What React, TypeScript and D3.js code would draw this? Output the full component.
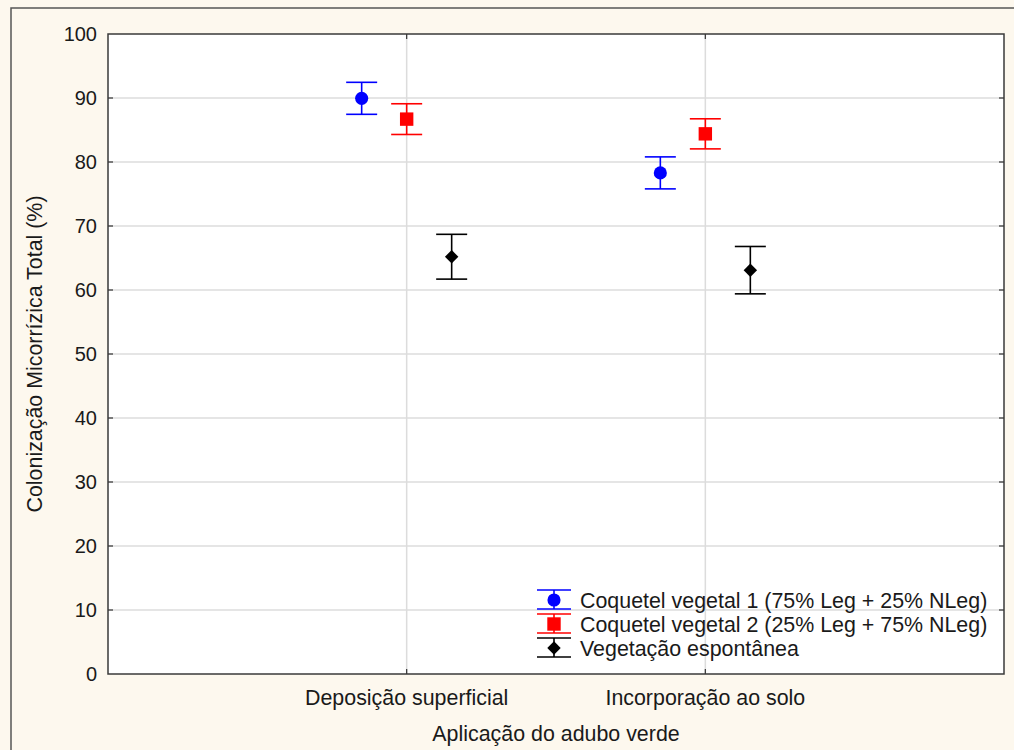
import React, { useEffect, useRef } from 'react';
import * as d3 from 'd3';

const categories = ['Deposição superficial', 'Incorporação ao solo'];
const seriesNames = [
  'Coquetel vegetal 1 (75% Leg + 25% NLeg)',
  'Coquetel vegetal 2 (25% Leg + 75% NLeg)',
  'Vegetação espontânea',
];
const seriesColors = ['#0000ff', '#ff0000', '#000000'];
const seriesShapes = ['circle', 'square', 'diamond'];
// mean and error (half-width) per category
const coquetel1Mean = [89.95, 78.3];
const coquetel1Err = [2.5, 2.5];
const coquetel2Mean = [86.7, 84.4];
const coquetel2Err = [2.4, 2.35];
const vegetacaoMean = [65.2, 63.1];
const vegetacaoErr = [3.5, 3.7];
const yTicks = [0, 10, 20, 30, 40, 50, 60, 70, 80, 90, 100];

export default function App() {
  const svgRef = useRef<SVGSVGElement>(null);

  useEffect(() => {
    if (!svgRef.current) return;
    const W = 1014, H = 750;
    const margin = { top: 34, right: 10, bottom: 76, left: 108 };
    const x0 = margin.left, x1 = W - margin.right;
    const y0 = margin.top, y1 = H - margin.bottom;
    const font = "'Liberation Sans', Arial, sans-serif";
    const textColor = '#1a1a1a';
    const labelSize = '21.4px';

    const svg = d3.select(svgRef.current);
    svg.selectAll('*').remove();

    // outer frame
    svg.append('rect').attr('width', W).attr('height', H).attr('fill', '#fdf8ee');
    svg.append('rect')
      .attr('x', 11).attr('y', 8).attr('width', W).attr('height', H)
      .attr('fill', 'none').attr('stroke', '#555').attr('stroke-width', 1.5);

    const x = d3.scalePoint<string>().domain(categories).range([x0, x1]).padding(1);
    const offset = d3.scalePoint<string>().domain(seriesNames).range([-45, 45]);
    const y = d3.scaleLinear().domain([0, 100]).range([y1, y0]);

    const series = [
      { name: seriesNames[0], mean: coquetel1Mean, err: coquetel1Err },
      { name: seriesNames[1], mean: coquetel2Mean, err: coquetel2Err },
      { name: seriesNames[2], mean: vegetacaoMean, err: vegetacaoErr },
    ];

    // plot area
    svg.append('rect')
      .attr('x', x0).attr('y', y0).attr('width', x1 - x0).attr('height', y1 - y0)
      .attr('fill', '#fff');

    // grid
    const g = svg.append('g');
    g.selectAll('.hgrid').data(yTicks.slice(1, -1)).enter().append('line')
      .attr('x1', x0).attr('x2', x1)
      .attr('y1', d => y(d)).attr('y2', d => y(d))
      .attr('stroke', '#dcdcdc').attr('stroke-width', 1.5);
    g.selectAll('.vgrid').data(categories).enter().append('line')
      .attr('x1', d => x(d)!).attr('x2', d => x(d)!)
      .attr('y1', y0).attr('y2', y1)
      .attr('stroke', '#dcdcdc').attr('stroke-width', 1.5);

    // tick marks
    yTicks.slice(1, -1).forEach(t => {
      g.append('line').attr('x1', x0).attr('x2', x0 + 5).attr('y1', y(t)).attr('y2', y(t))
        .attr('stroke', '#333').attr('stroke-width', 1.2);
      g.append('line').attr('x1', x1 - 5).attr('x2', x1).attr('y1', y(t)).attr('y2', y(t))
        .attr('stroke', '#333').attr('stroke-width', 1.2);
    });
    categories.forEach(c => {
      g.append('line').attr('x1', x(c)!).attr('x2', x(c)!).attr('y1', y1).attr('y2', y1 - 5)
        .attr('stroke', '#333').attr('stroke-width', 1.2);
      g.append('line').attr('x1', x(c)!).attr('x2', x(c)!).attr('y1', y0).attr('y2', y0 + 5)
        .attr('stroke', '#333').attr('stroke-width', 1.2);
    });

    // frame of plot area
    svg.append('rect')
      .attr('x', x0).attr('y', y0).attr('width', x1 - x0).attr('height', y1 - y0)
      .attr('fill', 'none').attr('stroke', '#3a3a3a').attr('stroke-width', 1.5);

    // y tick labels
    svg.selectAll('.ylab').data(yTicks).enter().append('text')
      .attr('x', x0 - 11).attr('y', d => y(d) + 7)
      .attr('text-anchor', 'end')
      .style('font-family', font).style('font-size', '20px').attr('fill', textColor)
      .text(d => d);

    // x tick labels
    svg.selectAll('.xlab').data(categories).enter().append('text')
      .attr('x', d => x(d)!).attr('y', y1 + 31)
      .attr('text-anchor', 'middle')
      .style('font-family', font).style('font-size', labelSize).attr('fill', textColor)
      .text(d => d);

    // axis titles
    svg.append('text')
      .attr('x', (x0 + x1) / 2).attr('y', 741)
      .attr('text-anchor', 'middle')
      .style('font-family', font).style('font-size', labelSize).attr('fill', textColor)
      .text('Aplicação do adubo verde');
    svg.append('text')
      .attr('transform', `translate(42,${(y0 + y1) / 2}) rotate(-90)`)
      .attr('text-anchor', 'middle')
      .style('font-family', font).style('font-size', labelSize).attr('fill', textColor)
      .text('Colonização Micorrízica Total (%)');

    const symbolFor = (shape: string) => {
      if (shape === 'circle') return d3.symbol().type(d3.symbolCircle).size(135)();
      if (shape === 'square') return d3.symbol().type(d3.symbolSquare).size(180)();
      return d3.symbol().type(d3.symbolDiamond2).size(115)();
    };

    const drawMarker = (parent: any, cx: number, cy: number, top: number, bot: number, i: number, capW: number) => {
      const color = seriesColors[i];
      parent.append('line').attr('x1', cx).attr('x2', cx).attr('y1', top).attr('y2', bot)
        .attr('stroke', color).attr('stroke-width', 1.6);
      [top, bot].forEach(yy => {
        parent.append('line').attr('x1', cx - capW).attr('x2', cx + capW).attr('y1', yy).attr('y2', yy)
          .attr('stroke', color).attr('stroke-width', 1.6);
      });
      parent.append('path')
        .attr('d', symbolFor(seriesShapes[i]))
        .attr('transform', `translate(${cx},${cy})`)
        .attr('fill', color);
    };

    // data
    const dg = svg.append('g');
    series.forEach((s, i) => {
      categories.forEach((c, j) => {
        const cx = x(c)! + offset(s.name)!;
        drawMarker(dg, cx, y(s.mean[j]), y(s.mean[j] + s.err[j]), y(s.mean[j] - s.err[j]), i, 15.5);
      });
    });

    // legend
    const lg = svg.append('g');
    seriesNames.forEach((name, i) => {
      const cy = 600 + i * 24;
      drawMarker(lg, 554, cy, cy - 10, cy + 9, i, 17);
      lg.append('text')
        .attr('x', 580).attr('y', cy + 8)
        .style('font-family', font).style('font-size', labelSize).attr('fill', textColor)
        .text(name);
    });
  }, []);

  return (
    <svg
      ref={svgRef}
      width={1014}
      height={750}
      style={{ position: 'absolute', left: 0, top: 0, display: 'block' }}
    />
  );
}
